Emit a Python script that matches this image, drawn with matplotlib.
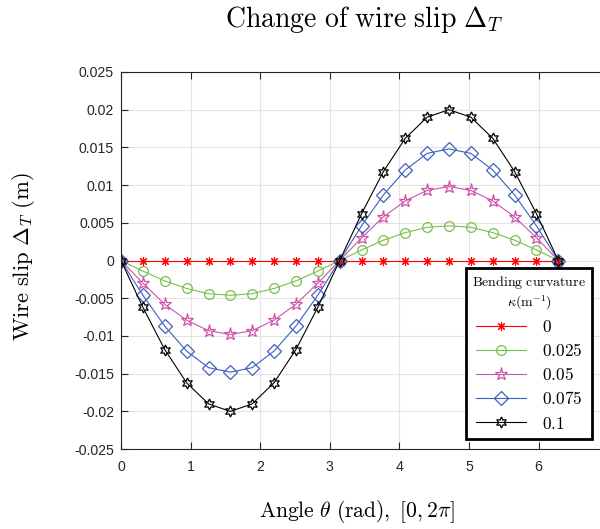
import matplotlib
matplotlib.use("Agg")
import matplotlib.pyplot as plt

theta = [0, 0.314, 0.628, 0.942, 1.257, 1.571, 1.885, 2.199, 2.513, 2.827, 3.142,
         3.456, 3.770, 4.084, 4.398, 4.712, 5.027, 5.341, 5.655, 5.969, 6.283]

slip_0 = [0.0] * 21
slip_0025 = [0, -0.0014, -0.0027, -0.0037, -0.0044, -0.0046, -0.0044, -0.0037, -0.0027, -0.0014, 0,
             0.0014, 0.0027, 0.0037, 0.0044, 0.0046, 0.0044, 0.0037, 0.0027, 0.0014, 0]
slip_005 = [0, -0.0030, -0.0058, -0.0079, -0.0093, -0.0098, -0.0093, -0.0079, -0.0058, -0.0030, 0,
            0.0030, 0.0058, 0.0079, 0.0093, 0.0098, 0.0093, 0.0079, 0.0058, 0.0030, 0]
slip_0075 = [0, -0.0046, -0.0087, -0.0120, -0.0142, -0.0148, -0.0142, -0.0120, -0.0087, -0.0046, 0,
             0.0046, 0.0087, 0.0120, 0.0142, 0.0148, 0.0142, 0.0120, 0.0087, 0.0046, 0]
slip_01 = [0, -0.0062, -0.0118, -0.0162, -0.0190, -0.0200, -0.0190, -0.0162, -0.0118, -0.0062, 0,
           0.0062, 0.0118, 0.0162, 0.0190, 0.0200, 0.0190, 0.0162, 0.0118, 0.0062, 0]

labels = ["0", "0.025", "0.05", "0.075", "0.1"]
xticks = [0, 1, 2, 3, 4, 5, 6, 7]
yticks = [-0.025, -0.02, -0.015, -0.01, -0.005, 0, 0.005, 0.01, 0.015, 0.02, 0.025]
ytick_labels = ["-0.025", "-0.02", "-0.015", "-0.01", "-0.005", "0", "0.005", "0.01", "0.015", "0.02", "0.025"]

plt.rcParams["mathtext.fontset"] = "cm"

fig = plt.figure(figsize=(6.0, 5.29), dpi=100)
ax = fig.add_axes([0.2017, 0.151, 0.812, 0.713])

series = [slip_0, slip_0025, slip_005, slip_0075, slip_01]
styles = [
    dict(color="#ff0000", marker=(8, 2, 0), ms=6.5, mew=0.8),
    dict(color="#77c04d", marker="o", ms=7, mew=0.9),
    dict(color="#cc55aa", marker="*", ms=9.5, mew=0.9),
    dict(color="#3d5fbf", marker="D", ms=7, mew=0.9),
    dict(color="#000000", marker=(6, 1, 0), ms=8, mew=0.9),
]
for ys, st, lab in zip(series, styles, labels):
    ax.plot(theta, ys, color=st["color"], lw=0.8, marker=st["marker"], ms=st["ms"],
            mfc="none", mec=st["color"], mew=st["mew"], label=lab)

ax.set_xlim(0, 7)
ax.set_ylim(-0.025, 0.025)
ax.set_xticks(xticks)
ax.set_yticks(yticks)
ax.set_yticklabels(ytick_labels)
ax.tick_params(direction="in", top=True, right=True, length=5, width=0.8,
               labelsize=10.2, labelcolor="#262626", colors="#262626")
for lab in ax.get_xticklabels() + ax.get_yticklabels():
    lab.set_family("Liberation Sans")
ax.tick_params(axis="x", pad=8)
ax.tick_params(axis="y", pad=5)
ax.grid(True, color="#e3e3e3", lw=0.8)
ax.set_axisbelow(True)
for s in ax.spines.values():
    s.set_color("#262626")
    s.set_linewidth(0.8)

ax.set_title(r"$\mathrm{Change\ of\ wire\ slip}\ \Delta_T$", fontsize=20, pad=32)
ax.set_xlabel(r"$\mathrm{Angle}\ \theta\ \mathrm{(rad),}\ [0, 2\pi]$", fontsize=15.5)
ax.xaxis.set_label_coords(0.485, -0.13)
ax.set_ylabel(r"$\mathrm{Wire\ slip}\ \Delta_T\ \mathrm{(m)}$", fontsize=16.3)
ax.yaxis.set_label_coords(-0.172, 0.51)

leg = ax.legend(loc="upper right", bbox_to_anchor=(0.967, 0.480),
                title="$\\mathrm{Bending\\ curvature}$\n$\\kappa(\\mathrm{m}^{-1})$",
                prop={"size": 12.5}, title_fontsize=10, fancybox=False,
                framealpha=1, edgecolor="black", handlelength=2.9,
                borderpad=0.35, labelspacing=0.35, handletextpad=0.9,
                borderaxespad=0)
leg.get_frame().set_linewidth(2.0)
leg.get_title().set_multialignment("center")
for t in leg.get_texts():
    t.set_text("$" + t.get_text() + "$")

fig.savefig("out.png", dpi=100)
